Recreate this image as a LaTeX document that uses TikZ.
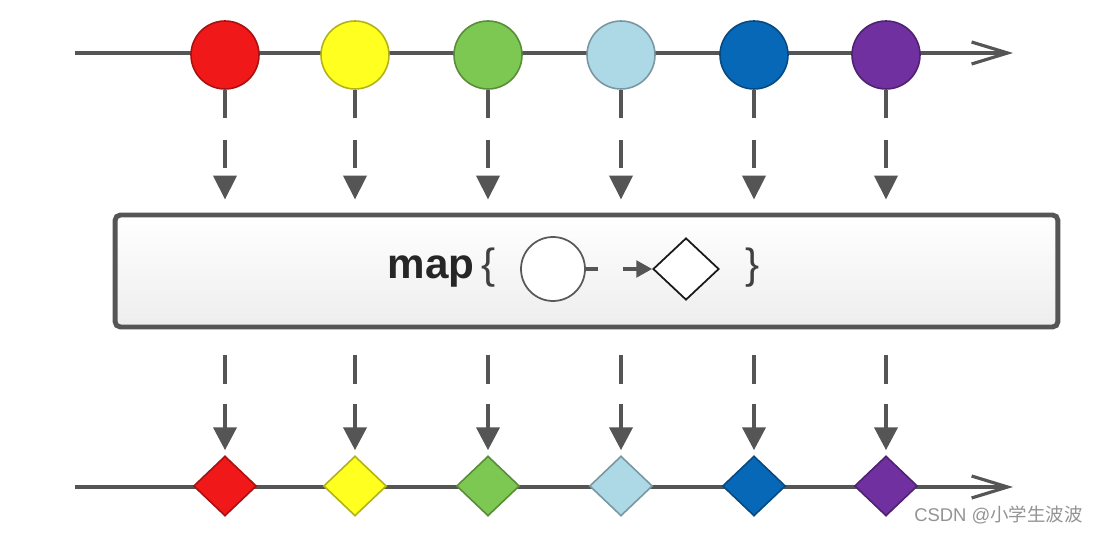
\documentclass[tikz,border=0pt]{standalone}
\usepackage{fontspec}
\setmainfont{Liberation Sans}
\newfontfamily\cjk{Noto Sans CJK SC}
\usetikzlibrary{arrows.meta,shapes.geometric}
\definecolor{linegray}{HTML}{555555}
\definecolor{cred}{HTML}{F01818}
\definecolor{cyellow}{HTML}{FFFF20}
\definecolor{cgreen}{HTML}{7DC852}
\definecolor{cltblue}{HTML}{ADD8E6}
\definecolor{cblue}{HTML}{0868B8}
\definecolor{cpurple}{HTML}{7030A0}
\begin{document}
\begin{tikzpicture}[
  x=0.02cm, y=-0.02cm,
  timeline/.style={draw=linegray, line width=2.3pt,
                   -{Straight Barb[length=0.72cm,width=0.44cm,line width=1.8pt]}},
  item/.style={circle, draw=#1!70!black, fill=#1, line width=0.9pt,
               minimum size=1.36cm, inner sep=0pt},
  result/.style={diamond, aspect=1, draw=#1!70!black, fill=#1, line width=0.9pt,
                 minimum width=1.26cm, minimum height=1.2cm, inner sep=0pt},
  feedin/.style={draw=linegray, line width=2.4pt,
                 dash pattern=on 15.9pt off 12.5pt,
                 -{Triangle[length=13.6pt,width=13pt]}, shorten >=0.26cm},
  feedout/.style={draw=linegray, line width=2.4pt,
                  dash pattern=on 16.5pt off 11.4pt on 40pt,
                  -{Triangle[length=13pt,width=13pt]},
                  shorten <=0.52cm, shorten >=0.1cm},
  opbox/.style={draw=linegray, line width=2.8pt, rounded corners=3pt,
                top color=white, bottom color=gray!14,
                minimum width=18.86cm, minimum height=2.24cm},
  lbl/.style={font=\fontsize{24}{26}\selectfont, text=black!85}
]
\useasboundingbox (0,0) rectangle (1099,533);

%% source timeline (top)
\coordinate (srcin)  at (75,53);
\coordinate (srcout) at (1013,53);
\draw[timeline] (srcin) -- (srcout);
\node[item=cred]    (c1) at (225,55) {};
\node[item=cyellow] (c2) at (355,55) {};
\node[item=cgreen]  (c3) at (488,55) {};
\node[item=cltblue] (c4) at (621,55) {};
\node[item=cblue]   (c5) at (754,55) {};
\node[item=cpurple] (c6) at (886,55) {};

%% operator box
\node[opbox] (mapbox) at (586.5,271) {};
\node[lbl, anchor=east] (mapl) at (502,268) {\textbf{map}\,{\color{black!75}\{}};
\node[circle, draw=gray!70!black, fill=white, line width=1pt,
      minimum size=1.28cm, inner sep=0pt] (inc) at (553,269) {};
\node[diamond, aspect=1, draw=gray!20!black, fill=white, line width=1pt,
      minimum width=1.32cm, minimum height=1.24cm, inner sep=0pt] (ind) at (686,269) {};
\node[lbl, text=black!75] (mapr) at (753,268) {\}};
\draw[draw=linegray, line width=1.8pt, dash pattern=on 6.8pt off 14.2pt on 30pt,
      -{Triangle[length=9pt,width=9.5pt]}] (inc.east) -- (ind.west);

%% items into the operator
\draw[feedin] (c1.south) -- (c1 |- mapbox.north);
\draw[feedin] (c2.south) -- (c2 |- mapbox.north);
\draw[feedin] (c3.south) -- (c3 |- mapbox.north);
\draw[feedin] (c4.south) -- (c4 |- mapbox.north);
\draw[feedin] (c5.south) -- (c5 |- mapbox.north);
\draw[feedin] (c6.south) -- (c6 |- mapbox.north);

%% result timeline (bottom)
\coordinate (resin)  at (75,487);
\coordinate (resout) at (1013,487);
\draw[timeline] (resin) -- (resout);
\node[result=cred]    (d1) at (225,486) {};
\node[result=cyellow] (d2) at (355,486) {};
\node[result=cgreen]  (d3) at (488,486) {};
\node[result=cltblue] (d4) at (621,486) {};
\node[result=cblue]   (d5) at (754,486) {};
\node[result=cpurple] (d6) at (886,486) {};

%% operator output
\draw[feedout] (d1 |- mapbox.south) -- (d1.north);
\draw[feedout] (d2 |- mapbox.south) -- (d2.north);
\draw[feedout] (d3 |- mapbox.south) -- (d3.north);
\draw[feedout] (d4 |- mapbox.south) -- (d4.north);
\draw[feedout] (d5 |- mapbox.south) -- (d5.north);
\draw[feedout] (d6 |- mapbox.south) -- (d6.north);

%% watermark
\node[anchor=east, text=gray!85, font=\fontsize{10.5}{12}\selectfont, inner sep=0pt]
  (mark) at (1083,515) {CSDN @{\cjk 小学生波波}};
\end{tikzpicture}
\end{document}
